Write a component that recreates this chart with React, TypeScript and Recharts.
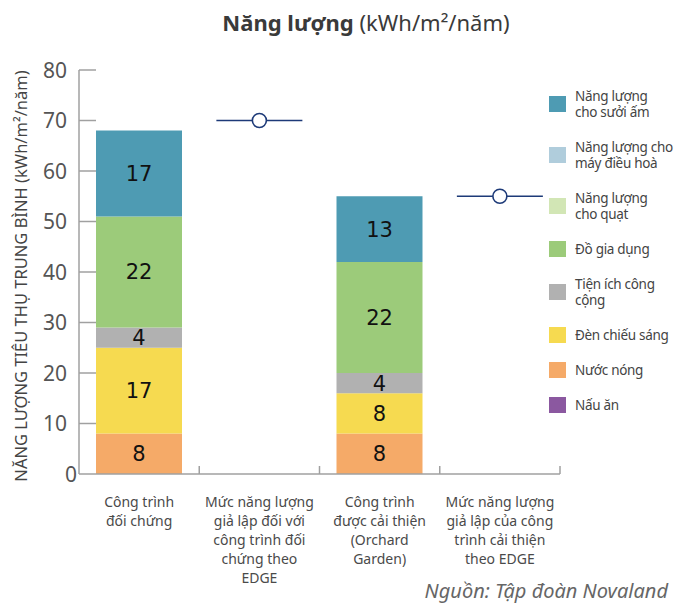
import React from "react";
import { ComposedChart, Bar, Scatter, XAxis, YAxis, LabelList } from "recharts";

// categories (x axis), one label per column, lines split by \n
const categories = [
  "Công trình\nđối chứng",
  "Mức năng lượng\ngiả lập đối với\ncông trình đối\nchứng theo\nEDGE",
  "Công trình\nđược cải thiện\n(Orchard\nGarden)",
  "Mức năng lượng\ngiả lập của công\ntrình cải thiện\ntheo EDGE",
];

// stacked components, kWh/m²/năm
const cooking = [0, null, 0, null];
const hotWater = [8, null, 8, null];
const lighting = [17, null, 8, null];
const publicArea = [4, null, 4, null];
const appliances = [22, null, 22, null];
const fan = [0, null, 0, null];
const airCon = [0, null, 0, null];
const heating = [17, null, 13, null];

// simulated EDGE baseline
const edgeBaseline = [null, 70, null, 55];

const yTicks = [0, 10, 20, 30, 40, 50, 60, 70, 80];

// bottom -> top order of the stack
const seriesKeys = ["cooking", "hotWater", "lighting", "publicArea", "appliances", "fan", "airCon", "heating"];
const seriesNames = [
  "Nấu ăn",
  "Nước nóng",
  "Đèn chiếu sáng",
  "Tiện ích công\ncộng",
  "Đồ gia dụng",
  "Năng lượng\ncho quạt",
  "Năng lượng cho\nmáy điều hoà",
  "Năng lượng\ncho sưởi ấm",
];
const seriesValues = [cooking, hotWater, lighting, publicArea, appliances, fan, airCon, heating];
const seriesColors = ["#8b58a0", "#f5aa68", "#f6da50", "#b1b1b1", "#9ccb7a", "#d2e6b5", "#b0cddc", "#4e9bb3"];

const data = categories.map((cat, i) => {
  const row: Record<string, string | number | null> = { cat, edge: edgeBaseline[i] };
  seriesKeys.forEach((k, s) => {
    row[k] = seriesValues[s][i];
  });
  return row;
});

const FONT = "'Noto Sans', sans-serif";
const AXIS = "#a0a0a0";
const W = 675;
const H = 608;
const MARGIN = { top: 70, right: 115, bottom: 0, left: 0 };
const Y_AXIS_W = 79;
const X_AXIS_H = 134;
const BAND = (W - MARGIN.left - MARGIN.right - Y_AXIS_W) / categories.length;
const BAR_SIZE = 86;

const XTick = (props: any) => {
  const { x, y, payload } = props;
  const lines = String(payload.value).split("\n");
  return (
    <g>
      <line x1={x + BAND / 2} x2={x + BAND / 2} y1={y} y2={y - 8} stroke={AXIS} strokeWidth={1.5} />
      <text x={x} y={y + 33} textAnchor="middle" fontSize={14} fill="#4a4a4a" fontFamily={FONT}>
        {lines.map((l, k) => (
          <tspan key={k} x={x} dy={k === 0 ? 0 : 19}>
            {l}
          </tspan>
        ))}
      </text>
    </g>
  );
};

const YTick = (props: any) => {
  const { x, y, payload } = props;
  const isZero = payload.value === 0;
  return (
    <g>
      {!isZero && <line x1={x} x2={x + 17} y1={y} y2={y} stroke={AXIS} strokeWidth={1.5} />}
      <text
        x={isZero ? x - 2 : x - 12}
        y={y}
        dy="0.36em"
        textAnchor="end"
        fontSize={21}
        fill="#555"
        fontFamily={FONT}
      >
        {payload.value}
      </text>
    </g>
  );
};

const YLabel = (props: any) => {
  const { viewBox } = props;
  const cx = viewBox.x + 20;
  const cy = viewBox.y + viewBox.height / 2 + 4;
  return (
    <text
      x={cx}
      y={cy}
      transform={`rotate(-90 ${cx} ${cy})`}
      textAnchor="middle"
      dominantBaseline="central"
      fontSize={16.5}
      fill="#444"
      fontFamily={FONT}
    >
      NĂNG LƯỢNG TIÊU THỤ TRUNG BÌNH (kWh/m²/năm)
    </text>
  );
};

const EdgeMark = (props: any) => {
  const { cx, cy } = props;
  if (!Number.isFinite(cx) || !Number.isFinite(cy)) return <g />;
  return (
    <g>
      <line x1={cx - BAR_SIZE / 2} x2={cx + BAR_SIZE / 2} y1={cy} y2={cy} stroke="#1d3a78" strokeWidth={1.6} />
      <circle cx={cx} cy={cy} r={7} fill="#fff" stroke="#1d3a78" strokeWidth={1.6} />
    </g>
  );
};

export default function App() {
  const legendItems = seriesKeys.map((k, i) => ({ k, name: seriesNames[i], color: seriesColors[i] })).reverse();

  return (
    <div style={{ position: "absolute", left: 0, top: 0, width: W, height: H, background: "#fff", fontFamily: FONT }}>
      <div
        style={{
          position: "absolute",
          top: 7,
          left: 366,
          transform: "translateX(-50%)",
          whiteSpace: "nowrap",
          fontSize: 22,
          color: "#3a3a3a",
        }}
      >
        <span style={{ fontWeight: 700 }}>Năng lượng</span> (kWh/m²/năm)
      </div>

      <ComposedChart width={W} height={H} data={data} margin={MARGIN}>
        <XAxis
          dataKey="cat"
          height={X_AXIS_H}
          interval={0}
          tickLine={false}
          tickSize={0}
          tickMargin={0}
          axisLine={{ stroke: AXIS, strokeWidth: 1.5 }}
          tick={<XTick />}
        />
        <YAxis
          width={Y_AXIS_W}
          domain={[0, 80]}
          ticks={yTicks}
          interval={0}
          tickLine={false}
          tickSize={0}
          tickMargin={0}
          axisLine={{ stroke: AXIS, strokeWidth: 1.5 }}
          tick={<YTick />}
          label={<YLabel />}
        />
        {seriesKeys.map((k, i) => (
          <Bar
            key={k}
            dataKey={k}
            name={seriesNames[i]}
            stackId="energy"
            fill={seriesColors[i]}
            barSize={BAR_SIZE}
            isAnimationActive={false}
          >
            {seriesValues[i].some((v) => v) && (
              <LabelList dataKey={k} position="center" fill="#111" fontSize={21} fontFamily="'DejaVu Sans', sans-serif" />
            )}
          </Bar>
        ))}
        <Scatter dataKey="edge" name="EDGE" shape={<EdgeMark />} isAnimationActive={false} />
      </ComposedChart>

      <div style={{ position: "absolute", left: 549, top: 88, display: "flex", flexDirection: "column", gap: 19 }}>
        {legendItems.map((it) => (
          <div key={it.k} style={{ display: "flex", alignItems: "center" }}>
            <div style={{ width: 17, height: 16, background: it.color, flex: "none" }} />
            <div
              style={{
                marginLeft: 9,
                fontSize: 13.5,
                letterSpacing: -0.3,
                lineHeight: "16px",
                color: "#444",
                whiteSpace: "pre",
              }}
            >
              {it.name}
            </div>
          </div>
        ))}
      </div>

      <div
        style={{
          position: "absolute",
          right: 7,
          top: 577,
          fontSize: 20,
          fontStyle: "italic",
          color: "#666",
          whiteSpace: "nowrap",
        }}
      >
        Nguồn: Tập đoàn Novaland
      </div>
    </div>
  );
}
